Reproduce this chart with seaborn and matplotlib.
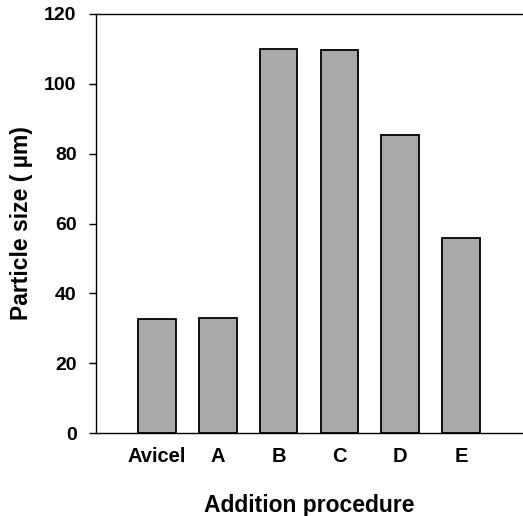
import matplotlib
matplotlib.use("Agg")
import matplotlib.pyplot as plt
import seaborn as sns
import pandas as pd

categories = ["Avicel", "A", "B", "C", "D", "E"]
particle_size = [32.7, 33.0, 110.0, 109.7, 85.3, 55.9]
y_ticks = [0, 20, 40, 60, 80, 100, 120]

sns.set_theme(style="white")
plt.rcParams['font.family'] = ['Liberation Sans', 'DejaVu Sans']
plt.rcParams['text.color'] = 'black'
plt.rcParams['axes.labelcolor'] = 'black'
plt.rcParams['xtick.color'] = 'black'
plt.rcParams['ytick.color'] = 'black'

df = pd.DataFrame({"procedure": categories, "size": particle_size})

fig = plt.figure(figsize=(5.23, 5.16), dpi=100)
ax = fig.add_axes([96/523, 1-433/516, (522-96)/523, (433-14)/516])
sns.barplot(data=df, x="procedure", y="size", color="#a9a9a9", saturation=1,
            edgecolor="black", linewidth=1.3, width=0.62, ax=ax)
ax.set_xlim(-1, 6)
ax.set_ylim(0, 120)
ax.set_yticks(y_ticks)
ax.set_yticklabels([str(t) for t in y_ticks], fontsize=14, fontweight="bold")
for lbl in ax.get_xticklabels():
    lbl.set_fontsize(14.5)
    lbl.set_fontweight("bold")
ax.tick_params(axis="y", direction="out", length=5, width=1, left=True, pad=9)
ax.tick_params(axis="x", length=0, pad=10)
ax.set_xlabel("Addition procedure", fontsize=16.5, fontweight="bold", labelpad=20)
ax.set_ylabel("Particle size ( \u00b5m)", fontsize=16.5, fontweight="bold", labelpad=8)
for s in ["left", "bottom", "top"]:
    ax.spines[s].set_visible(True)
    ax.spines[s].set_color("black")
    ax.spines[s].set_linewidth(1)
ax.spines["right"].set_visible(False)
fig.savefig("out.png", dpi=100)
